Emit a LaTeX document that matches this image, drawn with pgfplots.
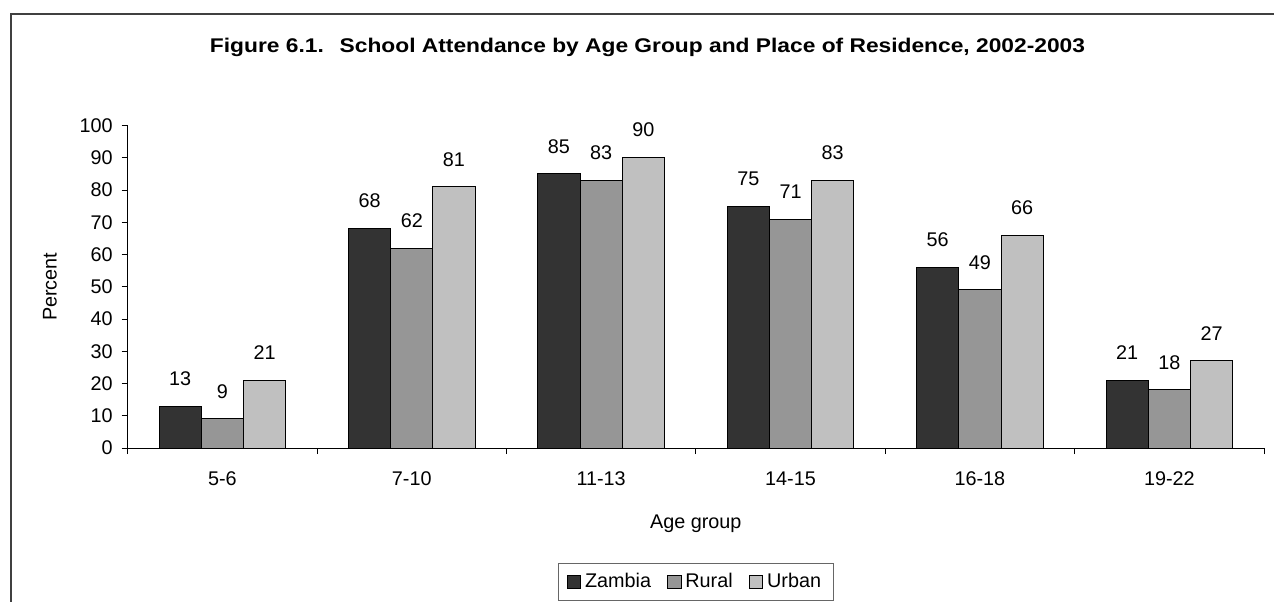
\documentclass[border=0pt]{standalone}
\usepackage{fontspec}
\setmainfont{Liberation Sans}
\newfontfamily\titlefont[FakeStretch=1.15]{Liberation Sans}
\usepackage{pgfplots}
\pgfplotsset{compat=1.18}
\definecolor{czam}{HTML}{333333}
\definecolor{crur}{HTML}{969696}
\definecolor{curb}{HTML}{C0C0C0}
\newcommand\lblfont{\fontsize{9.9}{11.5}\selectfont}
\begin{document}
\begin{tikzpicture}
\useasboundingbox (0,0) rectangle (637pt,300.5pt);
\draw[line width=1pt, color=black!75] (5.35pt,-5pt) -- (5.35pt,293.5pt) -- (645pt,293.5pt);
\node[font=\titlefont\bfseries\fontsize{9.9}{11}\selectfont] at (323.75pt,277pt) {Figure 6.1.\hspace{0.8em}School Attendance by Age Group and Place of Residence, 2002-2003};
\begin{axis}[
  at={(63.85pt,76.5pt)}, anchor=south west,
  scale only axis, width=568.15pt, height=161.25pt,
  ybar=0pt, bar width=21.1pt,
  xmin=0, xmax=6, ymin=0, ymax=100,
  axis lines*=left,
  axis line style={black, line width=0.5pt, -},
  xtick={0,...,6},
  x tick label as interval,
  xticklabels={5-6,7-10,11-13,14-15,16-18,19-22},
  ytick={0,10,...,100},
  tick align=outside,
  major tick length=3pt,
  tick style={black, line width=0.5pt},
  /pgf/number format/assume math mode=true,
  tick label style={font=\lblfont},
  yticklabel style={xshift=-1pt},
  xticklabel style={yshift=-5.5pt},
  ylabel={Percent},
  ylabel style={font=\lblfont, at={(axis description cs:-0.0684,0.5)}, anchor=center},
  xlabel={Age group},
  xlabel style={font=\lblfont, at={(axis description cs:0.5,-0.2357)}, anchor=center},
  nodes near coords,
  every node near coord/.append style={font=\lblfont, yshift=6.7pt, black},
  legend style={at={(axis description cs:0.5,-0.4155)}, anchor=center,
    legend columns=3, draw=black!60, line width=0.5pt, font=\lblfont,
    inner xsep=4pt, inner ysep=3pt,
    /tikz/every even column/.append style={column sep=6pt}},
  legend image code/.code={\draw[#1, draw=black, line width=0.4pt] (0pt,-3.4pt) rectangle (6.8pt,3.4pt);},
]
\addplot[fill=czam, draw=black, line width=0.5pt] coordinates {(0.5,13) (1.5,68) (2.5,85) (3.5,75) (4.5,56) (5.5,21)};
\addplot[fill=crur, draw=black, line width=0.5pt] coordinates {(0.5,9) (1.5,62) (2.5,83) (3.5,71) (4.5,49) (5.5,18)};
\addplot[fill=curb, draw=black, line width=0.5pt] coordinates {(0.5,21) (1.5,81) (2.5,90) (3.5,83) (4.5,66) (5.5,27)};
\legend{Zambia,Rural,Urban}
\end{axis}
\end{tikzpicture}
\end{document}
